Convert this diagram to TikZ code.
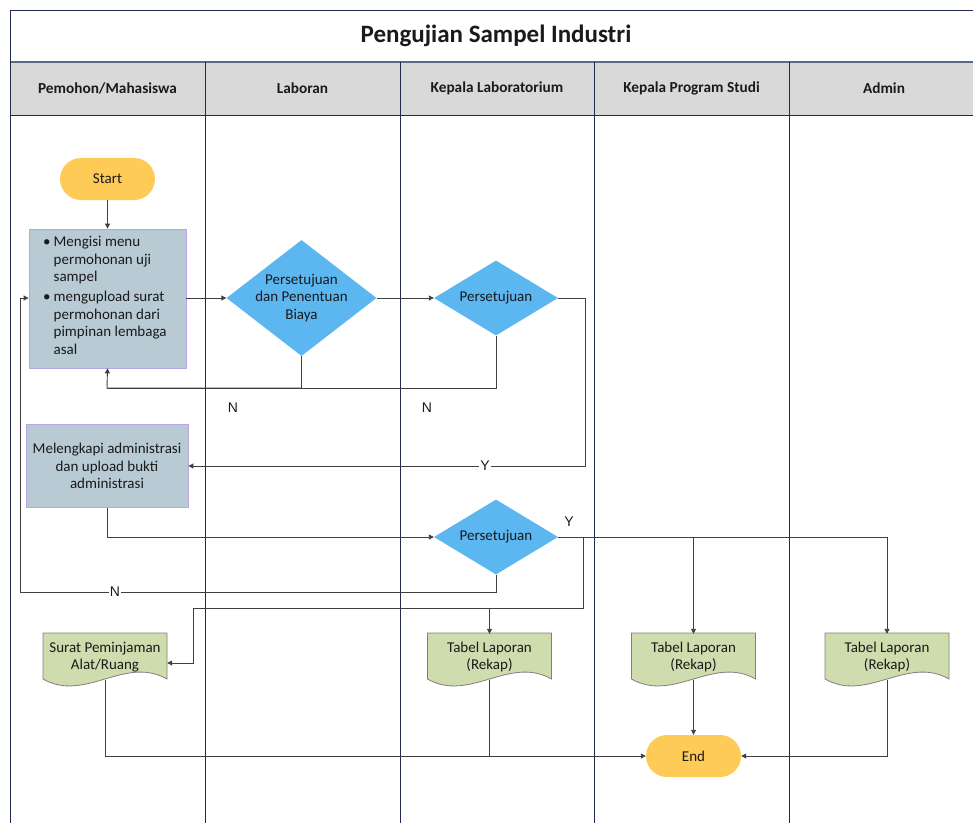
\documentclass[tikz,border=0pt]{standalone}
\usepackage{fontspec}
\setmainfont{Carlito}
\newfontfamily\labelfont{Liberation Sans}
\usetikzlibrary{arrows.meta,shapes.geometric,calc}

\definecolor{termfill}{HTML}{FFCB57}
\definecolor{procfill}{HTML}{B8CAD4}
\definecolor{procdraw}{HTML}{B7A6E6}
\definecolor{diafill}{HTML}{5CB6F0}
\definecolor{docfill}{HTML}{CFDCAE}
\definecolor{docdraw}{HTML}{808080}
\definecolor{headfill}{HTML}{D9D9D9}
\definecolor{lanecol}{HTML}{222A4E}
\definecolor{headline}{HTML}{5E6888}
\definecolor{flowcol}{HTML}{404040}
\definecolor{txtcol}{HTML}{1A1A1A}

\newcommand{\bodyfont}{\fontsize{15}{17.6}\selectfont}

% document symbol: wavy-bottom shape with its text node
\newcommand{\flowdoc}[4]{%
  \begin{scope}[shift={(#2,#3)}]
    \path[docshape] (-62,-24) -- (62,-24) -- (62,22)
      .. controls (20,-2) and (-20,46) .. (-62,22) -- cycle;
    \node[doctxt] (#1) at (0,0) {#4};
  \end{scope}}

\begin{document}
\begin{tikzpicture}[x=1pt,y=-1pt,
  lane/.style={draw=lanecol, line width=0.7pt},
  term/.style={rectangle, rounded corners=21pt, fill=termfill,
    minimum width=95pt, minimum height=42pt, inner sep=0pt,
    font=\bodyfont, text=txtcol},
  proc/.style={rectangle, fill=procfill, draw=procdraw, line width=0.8pt,
    inner sep=0pt, font=\bodyfont, text=txtcol},
  dia/.style={diamond, fill=diafill, inner sep=0pt},
  diatxt/.style={align=center, font=\bodyfont, text=txtcol, inner sep=0pt},
  flow/.style={draw=flowcol, line width=0.9pt},
  arr/.style={flow, -{Triangle[length=5pt,width=5pt]}},
  doctxt/.style={minimum width=124pt, minimum height=46pt, inner sep=0pt,
    align=center, font=\bodyfont, text=txtcol},
  docshape/.style={fill=docfill, draw=docdraw, line width=0.8pt},
  head/.style={font=\bfseries\fontsize{15.3}{18}\selectfont, text=txtcol},
  lbl/.style={font=\labelfont\fontsize{14}{16}\selectfont, text=txtcol, inner sep=1pt},
]
\useasboundingbox (0,0) rectangle (973,823);
\fill[white] (0,0) rectangle (973,823);

% swimlane frame
\fill[headfill] (10,62) rectangle (973,115);
\draw[lane] (10,10) -- (973,10);
\draw[draw=headline, line width=2pt] (10,62) -- (973,62);
\draw[lane] (10,115) -- (973,115);
\draw[lane] (10,10) -- (10,823);
\foreach \lx in {205,400,594,789} \draw[lane] (\lx,62) -- (\lx,823);

\node[font=\bfseries\fontsize{25}{30}\selectfont, text=txtcol] (title) at (496,36) {Pengujian Sampel Industri};
\node[head] (h1) at (107.5,88) {Pemohon/Mahasiswa};
\node[head] (h2) at (302.5,88) {Laboran};
\node[head] (h3) at (497,88) {Kepala Laboratorium};
\node[head] (h4) at (691.5,88) {Kepala Program Studi};
\node[head] (h5) at (884,88) {Admin};

% process steps
\node[term] (start) at (107.5,179) {Start};
\node[proc, minimum width=157pt, minimum height=139pt] (req) at (107.5,298.5) {};
\node[anchor=west, inner sep=0pt, font=\bodyfont, text=txtcol] (reqt) at (43,297)
  {\begin{tabular}{@{}l@{\hspace{3pt}}l@{}}
   \textbullet & Mengisi menu\\
   & permohonan uji\\
   & sampel\\[2pt]
   \textbullet & mengupload surat\\
   & permohonan dari\\
   & pimpinan lembaga\\
   & asal
   \end{tabular}};
\node[dia, minimum width=150pt, minimum height=116pt] (d1) at (301.5,298) {};
\node[diatxt] (d1t) at (d1.center) {Persetujuan\\dan Penentuan\\Biaya};
\node[dia, minimum width=124pt, minimum height=75pt] (d2) at (496,298) {};
\node[diatxt] (d2t) at (d2.center) {Persetujuan};
\node[proc, minimum width=162pt, minimum height=83pt, align=center] (adm) at (107,466)
  {Melengkapi administrasi\\dan upload bukti\\administrasi};
\node[dia, minimum width=124pt, minimum height=75pt] (d3) at (496,537) {};
\node[diatxt] (d3t) at (d3.center) {Persetujuan};

\flowdoc{docA}{105}{657}{Surat Peminjaman\\Alat/Ruang}
\flowdoc{docB}{489.5}{657}{Tabel Laporan\\(Rekap)}
\flowdoc{docC}{693.5}{657}{Tabel Laporan\\(Rekap)}
\flowdoc{docD}{887}{657}{Tabel Laporan\\(Rekap)}

\node[term] (end) at (693.5,756) {End};

% routing points
\coordinate (backA) at (107,388);
\coordinate (yA) at (585,466);
\coordinate (nB) at (20,592);
\coordinate (jA) at (583,537);
\coordinate (jB) at (583,608);
\coordinate (jC) at (193,608);
\coordinate (jD) at (193,663);

% connectors
\draw[arr] (start) -- (req);
\draw[arr] (req.east |- d1.west) -- (d1.west);
\draw[arr] (d1.east) -- (d2.west);
\draw[flow] (d2.south) |- (backA);
\draw[arr] (d1.south) |- (backA) -- (req.south);
\draw[arr] (d2.east) -| (yA) -- (adm.east |- yA);
\draw[arr] (adm.south) |- (d3.west);
\draw[arr] (d3.south) |- (nB) |- (req.west |- d1.west);
\draw[arr] (d3.east) -| (docD.north);
\draw[arr] (d3.east -| docC.north) -- (docC.north);
\draw[arr] (jA) -- (jB) -- (jC) -- (jD) -- (docA.east |- jD);
\draw[arr] (jB -| docB.north) -- (docB.north);
\draw[arr] (docA.south) |- (end.west);
\draw[flow] (docB.south) -- (docB.south |- end.west);
\draw[arr] (docC.south) -- (end.north);
\draw[arr] (docD.south) |- (end.east);

% branch labels
\node[lbl] (n1) at (233,408) {N};
\node[lbl] (n2) at (427,408) {N};
\node[lbl, fill=white] (y1) at (485,466) {Y};
\node[lbl] (y2) at (569,522) {Y};
\node[lbl, fill=white] (n3) at (115,592) {N};
\end{tikzpicture}
\end{document}
